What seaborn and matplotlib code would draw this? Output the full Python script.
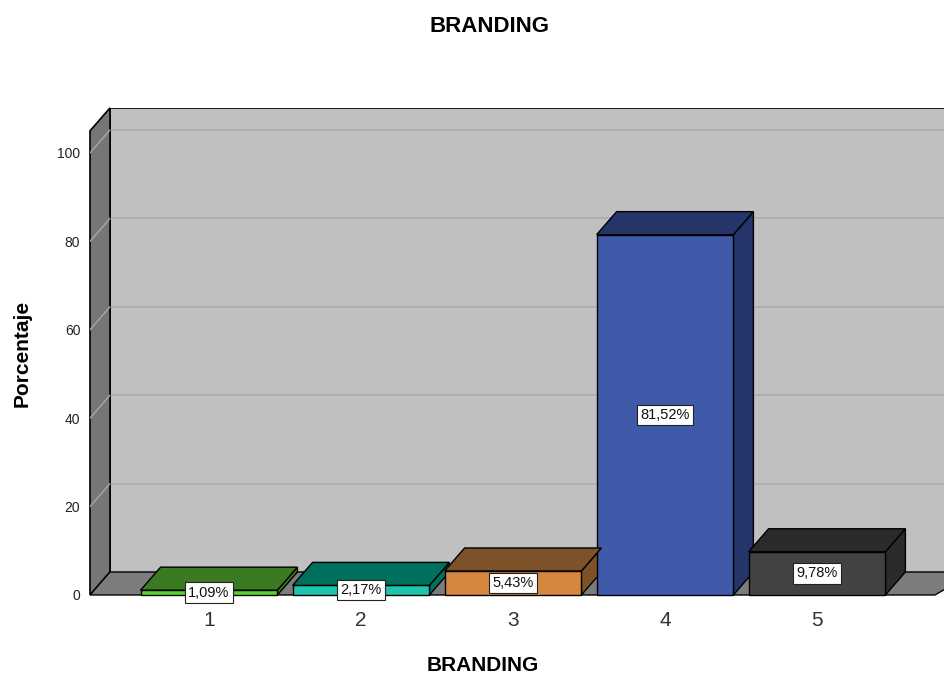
import numpy as np
import matplotlib
matplotlib.use('Agg')
import matplotlib.pyplot as plt
from matplotlib.patches import Rectangle
import seaborn as sns

# Datos.
categorias = ['1', '2', '3', '4', '5']
porcentajes = [1.09, 2.17, 5.43, 81.52, 9.78]
etiquetas = ['1,09%', '2,17%', '5,43%', '81,52%', '9,78%']
yticks = [0, 20, 40, 60, 80, 100]

# Colores (cara frontal y caras oscuras).
frente = ['#5ccf2c', '#1fc4ad', '#d4873f', '#3e5aa8', '#424242']
oscuro = ['#3b7a23', '#00705e', '#7d5229', '#25356a', '#2b2b2b']

sns.set_theme(style='white')
plt.rcParams['font.family'] = ['Liberation Sans', 'DejaVu Sans']

fig = plt.figure(figsize=(9.44, 6.79), dpi=100)

# Geometría en píxeles -> ejes.
px_u = 4.42            # píxeles por unidad en y
px_c = 152.0           # píxeles por categoría
y0_px, top_px = 599.4, 108.0
x_izq, x_der = (90 - 209) / px_c, (944 - 209) / px_c
ax = fig.add_axes([90 / 944, (679 - y0_px) / 679, 854 / 944, (y0_px - top_px) / 679])

dx = 20 / px_c
dy = 23 / px_u
tope = 105.0

# Barras (cara frontal).
sns.barplot(x=categorias, y=porcentajes, hue=categorias, palette=frente, width=0.9,
            saturation=1, edgecolor='black', linewidth=1.0, legend=False, ax=ax, zorder=3)
barras = sorted([p for p in ax.patches if isinstance(p, Rectangle)], key=lambda p: p.get_x())

ax.set_xlim(x_izq, x_der)
ax.set_ylim(-1, (y0_px - top_px) / px_u - 1)

# Pared trasera, pared lateral y suelo.
ax.fill([x_izq + dx, 7, 7, x_izq + dx], [dy, dy, tope + dy, tope + dy],
        color='#c0c0c0', zorder=0)
ax.plot([x_izq + dx, x_izq + dx, 7], [dy, tope + dy, tope + dy], color='black', lw=1.2, zorder=1)
ax.fill([x_izq, x_izq + dx, x_izq + dx, x_izq], [0, dy, tope + dy, tope],
        facecolor='#767676', edgecolor='black', lw=1.2, zorder=1, clip_on=False)
x_suelo = (935 - 209) / px_c
ax.fill([x_izq, x_izq + dx, x_suelo + 2 * dx, x_suelo], [0, dy, dy, 0],
        facecolor='#7c7c7c', edgecolor='black', lw=1.0, zorder=1)

# Líneas de rejilla.
for v in yticks[1:]:
    ax.plot([x_izq + dx, 7], [v + dy, v + dy], color='#acacac', lw=1.2, zorder=0.5)
    ax.plot([x_izq, x_izq + dx], [v, v + dy], color='#a8a8a8', lw=1.0, zorder=1.5)

# Caras superior y lateral de cada barra.
for i, p in enumerate(barras):
    x, w, h = p.get_x(), p.get_width(), p.get_height()
    ax.fill([x, x + w, x + w + dx, x + dx], [h, h, h + dy, h + dy],
            facecolor=oscuro[i], edgecolor='black', lw=1.0, zorder=3)
    ax.fill([x + w, x + w + dx, x + w + dx, x + w], [0, dy, h + dy, h],
            facecolor=oscuro[i], edgecolor='black', lw=1.0, zorder=2.5)
    ax.text(x + w / 2, h / 2, etiquetas[i], ha='center', va='center', fontsize=10.5,
            color='#111111', zorder=5,
            bbox=dict(boxstyle='square,pad=0.22', facecolor='white', edgecolor='#222222', lw=0.8))

# Ejes.
for s in ax.spines.values():
    s.set_visible(False)
ax.set_yticks(yticks)
ax.set_yticklabels([str(v) for v in yticks], fontsize=10, color='#222222')
ax.tick_params(axis='y', length=0, pad=7)
ax.tick_params(axis='x', length=0, pad=8, labelsize=15, labelcolor='#333333')
ax.grid(False)

ax.set_ylabel('Porcentaje', fontsize=15, fontweight='bold', color='black')
ax.yaxis.set_label_coords(-0.068, 0.5)
ax.set_xlabel('BRANDING', fontsize=15, fontweight='bold', color='black')
ax.xaxis.set_label_coords(0.46, -0.115)

fig.text(490 / 944, 1 - 27 / 679, 'BRANDING', ha='center', va='center',
         fontsize=16, fontweight='bold', color='black')

fig.savefig('out.png', dpi=100, facecolor='white')
